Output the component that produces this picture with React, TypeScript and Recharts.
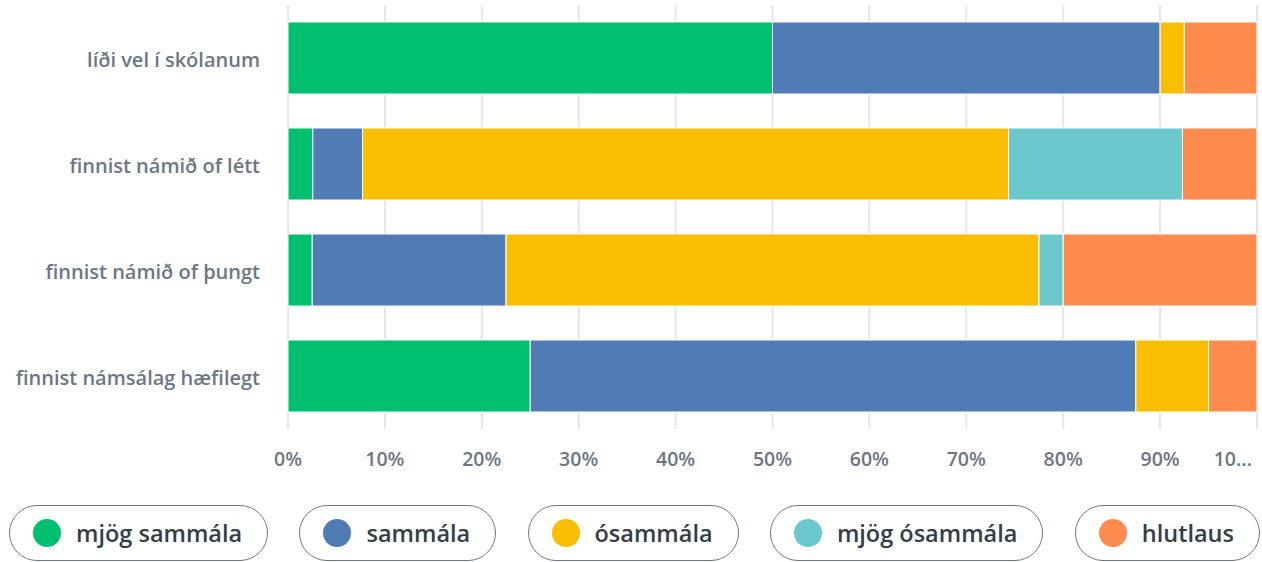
import React from "react";
import { BarChart, Bar, XAxis, YAxis, CartesianGrid } from "recharts";

const categories = [
  "líði vel í skólanum",
  "finnist námið of létt",
  "finnist námið of þungt",
  "finnist námsálag hæfilegt",
];
const mjogSammala = [50, 2.56, 2.5, 25];
const sammala = [40, 5.13, 20, 62.5];
const osammala = [2.5, 66.67, 55, 7.5];
const mjogOsammala = [0, 17.95, 2.5, 0];
const hlutlaus = [7.5, 7.69, 20, 5];

const xTicks = [0, 10, 20, 30, 40, 50, 60, 70, 80, 90, 100];
const xTickLabels = ["0%", "10%", "20%", "30%", "40%", "50%", "60%", "70%", "80%", "90%", "10..."];

const seriesNames = ["mjög sammála", "sammála", "ósammála", "mjög ósammála", "hlutlaus"];
const seriesKeys = ["s1", "s2", "s3", "s4", "s5"];
const seriesColors = ["#00bf6f", "#507cb6", "#f9be00", "#6bc8cd", "#ff8b4f"];

const data = categories.map((c, i) => ({
  name: c,
  s1: mjogSammala[i],
  s2: sammala[i],
  s3: osammala[i],
  s4: mjogOsammala[i],
  s5: hlutlaus[i],
}));

const FONT = "'Open Sans', sans-serif";

const XTick = (props: any) => {
  const { x, y, payload, index } = props;
  const idx = xTicks.indexOf(payload.value);
  const label = xTickLabels[idx >= 0 ? idx : index];
  const last = idx === xTicks.length - 1;
  return (
    <text
      x={last ? x - 5 : x}
      y={y}
      dy="0.71em"
      textAnchor={last ? "end" : "middle"}
      fill="#6b7785"
      fontSize={19.5}
      fontFamily={FONT}
      fontWeight={600}
    >
      {label}
    </text>
  );
};

const YTick = (props: any) => {
  const { x, y, payload } = props;
  return (
    <text
      x={x}
      y={y + 2}
      dy="0.355em"
      textAnchor="end"
      fill="#6b7785"
      fontSize={20}
      fontFamily={FONT}
      fontWeight={600}
    >
      {payload.value}
    </text>
  );
};

export default function App() {
  return (
    <div
      style={{
        position: "absolute",
        left: 0,
        top: 0,
        width: 1262,
        height: 562,
        background: "#fff",
        overflow: "hidden",
      }}
    >
      <BarChart
        width={1262}
        height={480}
        data={data}
        layout="vertical"
        margin={{ top: 5, right: 5, bottom: 0, left: 0 }}
        barCategoryGap={34}
      >
        <CartesianGrid horizontal={false} vertical={true} stroke="#e6e6e6" strokeWidth={2} />
        <XAxis
          type="number"
          domain={[0, 100]}
          ticks={xTicks}
          interval={0}
          axisLine={false}
          tickLine={false}
          tickSize={6}
          tickMargin={17}
          height={51}
          tick={<XTick />}
        />
        <YAxis
          type="category"
          dataKey="name"
          width={288}
          axisLine={false}
          tickLine={false}
          tickSize={6}
          tickMargin={22}
          tick={<YTick />}
        />
        {seriesKeys.map((k, i) => (
          <Bar
            key={k}
            dataKey={k}
            name={seriesNames[i]}
            stackId="a"
            fill={seriesColors[i]}
            stroke="#ffffff"
            strokeWidth={1}
            barSize={72}
            isAnimationActive={false}
          />
        ))}
      </BarChart>
      <div
        style={{
          position: "absolute",
          left: 9,
          width: 1251,
          top: 505,
          height: 56,
          display: "flex",
          justifyContent: "space-between",
          fontFamily: FONT,
        }}
      >
        {seriesNames.map((n, i) => (
          <div
            key={n}
            style={{
              boxSizing: "border-box",
              height: 56,
              border: "1.5px solid #6b7785",
              borderRadius: 28,
              display: "flex",
              alignItems: "center",
              paddingLeft: 23,
              paddingRight: 25,
            }}
          >
            <span
              style={{
                width: 28,
                height: 28,
                borderRadius: "50%",
                background: seriesColors[i],
                display: "inline-block",
                marginRight: 15,
              }}
            />
            <span style={{ fontSize: 23.5, fontWeight: 600, color: "#333e48", whiteSpace: "nowrap" }}>{n}</span>
          </div>
        ))}
      </div>
    </div>
  );
}
